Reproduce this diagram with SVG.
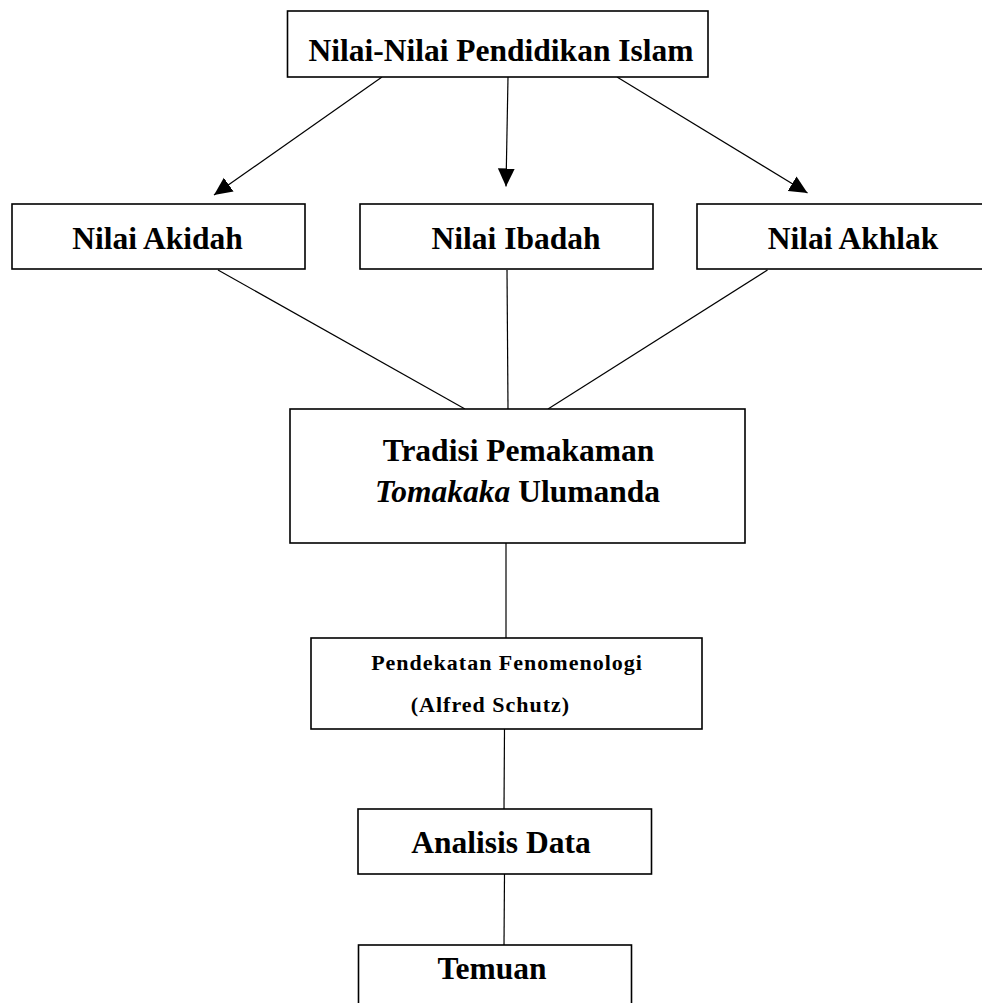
<svg xmlns="http://www.w3.org/2000/svg" width="982" height="1003" viewBox="0 0 982 1003">
  <style>
    .box { fill: #ffffff; stroke: #000000; stroke-width: 1.6; }
    .lbl { font-family: "Liberation Serif", "Times New Roman", serif; font-weight: bold; font-size: 31.5px; fill: #000000; text-anchor: middle; }
    .sm { font-size: 22px; letter-spacing: 1px; }
    .conn { stroke: #000000; stroke-width: 1.2; fill: none; }
  </style>
  <defs>
    <marker id="arrow" markerUnits="userSpaceOnUse" markerWidth="18" markerHeight="18" viewBox="0 0 17 16" refX="17" refY="8" orient="auto">
      <path d="M0,0 L17,8 L0,16 Z" fill="#000000"/>
    </marker>
  </defs>
  <rect width="982" height="1003" fill="#ffffff"/>

  <g id="connectors">
    <line class="conn" x1="382" y1="77" x2="214" y2="195" marker-end="url(#arrow)"/>
    <line class="conn" x1="508" y1="77" x2="506" y2="186.5" marker-end="url(#arrow)"/>
    <line class="conn" x1="617" y1="77" x2="807.5" y2="193" marker-end="url(#arrow)"/>
    <line class="conn" x1="218" y1="270" x2="465" y2="409"/>
    <line class="conn" x1="507" y1="270" x2="508" y2="409"/>
    <line class="conn" x1="767.5" y1="270" x2="548" y2="409"/>
    <line class="conn" x1="506" y1="543" x2="506" y2="638"/>
    <line class="conn" x1="504.5" y1="729" x2="504" y2="809"/>
    <line class="conn" x1="504.5" y1="874" x2="504" y2="945"/>
  </g>

  <g id="node-nilai-pendidikan">
    <rect class="box" x="287.5" y="11" width="420.5" height="66"/>
    <text class="lbl" x="501" y="61">Nilai-Nilai Pendidikan Islam</text>
  </g>

  <g id="node-akidah">
    <rect class="box" x="12" y="204" width="293" height="65"/>
    <text class="lbl" x="157.5" y="249">Nilai Akidah</text>
  </g>

  <g id="node-ibadah">
    <rect class="box" x="360" y="204" width="293" height="65"/>
    <text class="lbl" x="516" y="249">Nilai Ibadah</text>
  </g>

  <g id="node-akhlak">
    <rect class="box" x="697" y="204" width="290" height="65"/>
    <text class="lbl" x="853" y="249">Nilai Akhlak</text>
  </g>

  <g id="node-tradisi">
    <rect class="box" x="290" y="409" width="455" height="134"/>
    <text class="lbl" x="518.5" y="461">Tradisi Pemakaman</text>
    <text class="lbl" x="517.5" y="502"><tspan font-style="italic">Tomakaka</tspan> Ulumanda</text>
  </g>

  <g id="node-pendekatan">
    <rect class="box" x="311" y="638" width="391" height="91"/>
    <text class="lbl sm" x="507" y="670">Pendekatan Fenomenologi</text>
    <text class="lbl sm" x="490.5" y="712">(Alfred Schutz)</text>
  </g>

  <g id="node-analisis">
    <rect class="box" x="358" y="809" width="293.5" height="65"/>
    <text class="lbl" x="501" y="853">Analisis Data</text>
  </g>

  <g id="node-temuan">
    <rect class="box" x="358.5" y="945" width="273" height="70"/>
    <text class="lbl" x="492" y="979">Temuan</text>
  </g>
</svg>
